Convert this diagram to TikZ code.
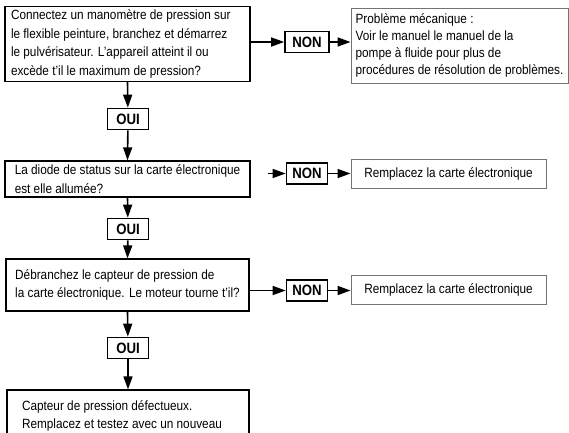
\documentclass[tikz,border=0pt]{standalone}
\usepackage{fontspec}
\setmainfont[FakeStretch=0.88]{Liberation Sans}
\usetikzlibrary{arrows.meta}

\begin{document}
\begin{tikzpicture}[x=1pt,y=-1pt,
	every node/.style={font=\fontsize{13.4}{18.5}\selectfont},
	qbox/.style={draw,line width=1.3pt,rectangle,align=flush left,inner xsep=2pt},
	abox/.style={draw=black!55,line width=0.9pt,rectangle,inner xsep=2pt},
	yn/.style={draw,line width=1.7pt,rectangle,font=\fontsize{15}{16}\selectfont\bfseries,minimum width=41pt,minimum height=21pt,inner sep=0pt},
	arr/.style={line width=1.6pt,-{Triangle[length=13pt,width=9pt]}}]
			\useasboundingbox (0,0) rectangle (569,432);
			\node[qbox,minimum width=245pt,minimum height=72pt,text width=233pt,inner xsep=6pt] (q1) at (127.5,44) {Connectez un manomètre de pression sur\\le flexible peinture, branchez et démarrez\\le pulvérisateur. L'appareil atteint il ou\\excède t'il le maximum de pression?};
			\node[qbox,minimum width=245pt,minimum height=36pt] (q2) at (127.5,179) {La diode de status sur la carte électronique\\est elle allumée?};
			\node[qbox,minimum width=243pt,minimum height=52pt] (q3) at (127.5,285) {Débranchez le capteur de pression de\\la carte électronique. Le moteur tourne t'il?};
			\node[qbox,minimum width=242pt,minimum height=52pt,text width=212pt,inner xsep=15pt] (q4) at (128,416) {Capteur de pression défectueux.\\Remplacez et testez avec un nouveau};
			\node[yn] (o1) at (128,119) {OUI};
			\node[yn] (o2) at (128,229) {OUI};
			\node[yn] (o3) at (128,348) {OUI};
			\node[yn,minimum width=44pt] (n1) at (307,42) {NON};
			\node[yn] (n2) at (307,173.5) {NON};
			\node[yn] (n3) at (307,290.5) {NON};
			\node[abox,align=flush left,minimum width=217pt,minimum height=75pt,font=\fontsize{13.4}{16.7}\selectfont] (a1) at (459.5,45.5) {Problème mécanique :\\Voir le manuel le manuel de la\\pompe à fluide pour plus de\\procédures de résolution de problèmes.};
			\node[abox,minimum width=195pt,minimum height=29pt] (a2) at (448.5,173.5) {Remplacez la carte électronique};
			\node[abox,minimum width=195pt,minimum height=29pt] (a3) at (448.5,289.5) {Remplacez la carte électronique};
			\coordinate (s2) at (268,173.5);
			\draw[arr] (q1.south) -- (o1); \draw[arr] (o1) -- (q2.north);
			\draw[arr] (q2.south) -- (o2); \draw[arr] (o2) -- (q3.north);
			\draw[arr] (q3.south) -- (o3); \draw[arr] (o3) -- (q4.north);
			\draw[arr] (n1 -| q1.east) -- (n1); \draw[arr] (n1) -- (n1 -| a1.west);
			\draw[arr] (s2) -- (n2); \draw[arr] (n2) -- (a2);
			\draw[arr] (n3 -| q3.east) -- (n3); \draw[arr] (n3) -- (n3 -| a3.west);
		\end{tikzpicture}
\end{document}
